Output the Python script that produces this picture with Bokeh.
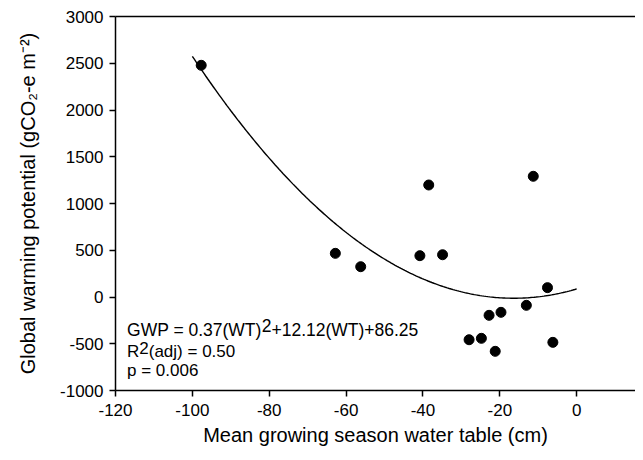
import numpy as np
from bokeh.plotting import figure
from bokeh.models import Range1d, FixedTicker, LinearAxis, Label, ColumnDataSource
from bokeh.embed import file_html
from bokeh.resources import INLINE

# ---- data ----
water_table = [-97.7, -62.8, -56.2, -40.8, -38.5, -34.9, -28.0, -24.8,
               -22.8, -21.2, -19.7, -13.1, -11.3, -7.6, -6.2]
gwp = [2478, 467, 324, 442, 1198, 452, -457, -442,
       -196, -581, -164, -89, 1291, 100, -485]

# fitted quadratic shown on the chart: GWP = a*WT^2 + b*WT + c
fit_a, fit_b, fit_c = 0.37, 12.12, 86.25
fit_start, fit_end = -100, 0

x_ticks = [-120, -100, -80, -60, -40, -20, 0]
y_ticks = [-1000, -500, 0, 500, 1000, 1500, 2000, 2500, 3000]

eq_part1 = "GWP = 0.37(WT)"
eq_sup = "2"
eq_part2 = "+12.12(WT)+86.25"
r2_part1 = "R"
r2_sup = "2"
r2_part2 = "(adj) = 0.50"
p_text = "p = 0.006"

x_title = "Mean growing season water table (cm)"
y_title = "Global warming potential (gCO\u2082-e m\u207b\u00b2)"

FONT = "Liberation Sans"

p = figure(width=635, height=452,
           x_range=Range1d(-120, 15.3), y_range=Range1d(-1000, 3000),
           output_backend="svg", toolbar_location=None,
           min_border_left=115, min_border_right=0,
           min_border_top=16, min_border_bottom=62)
p.grid.visible = False
p.outline_line_color = None
p.background_fill_color = "white"
p.border_fill_color = "white"

for ax in (p.xaxis[0], p.yaxis[0]):
    ax.minor_tick_line_color = None
    ax.major_tick_in = 0
    ax.major_tick_out = 6
    ax.axis_line_width = 1.5
    ax.major_tick_line_width = 1.5
    ax.axis_line_color = "black"
    ax.major_tick_line_color = "black"
    ax.major_label_text_font = FONT
    ax.major_label_text_font_size = "17px"
    ax.major_label_text_color = "black"
    ax.axis_label_text_font = FONT
    ax.axis_label_text_font_size = "20px"
    ax.axis_label_text_font_style = "normal"
    ax.axis_label_text_color = "black"

p.xaxis[0].ticker = FixedTicker(ticks=x_ticks)
p.yaxis[0].ticker = FixedTicker(ticks=y_ticks)
p.xaxis[0].major_label_overrides = {t: str(t) for t in x_ticks}
p.yaxis[0].major_label_overrides = {t: str(t) for t in y_ticks}
p.xaxis[0].axis_label = x_title
p.yaxis[0].axis_label = y_title
p.xaxis[0].major_label_standoff = 7
p.xaxis[0].axis_label_standoff = 5
p.yaxis[0].major_label_standoff = 6
p.yaxis[0].axis_label_standoff = 18

top = LinearAxis(ticker=FixedTicker(ticks=[]), major_label_text_font_size="0px",
                 major_tick_in=0, major_tick_out=0, minor_tick_in=0, minor_tick_out=0,
                 axis_line_width=1.5, axis_line_color="black", major_label_standoff=0)
p.add_layout(top, "above")

# fit curve
fx = np.linspace(fit_start, fit_end, 200)
fy = fit_a * fx ** 2 + fit_b * fx + fit_c
p.line(fx, fy, line_color="black", line_width=1.4)

src = ColumnDataSource(data=dict(x=water_table, y=gwp))
p.scatter("x", "y", source=src, size=10, fill_color="black", line_color="black")

tx = -117.0
def lab(text, y, xoff=0, size=17):
    p.add_layout(Label(x=tx, y=y, x_offset=xoff, text=text, text_font=FONT,
                       text_font_size=f"{size}px", text_color="black",
                       text_baseline="alphabetic", text_align="left"))

# line 1
f1 = 17.5
lab(eq_part1, -353, size=f1)
lab(eq_sup, -353 + 43, xoff=7.696 * f1, size=f1)
lab(eq_part2, -353, xoff=(7.696 + 0.556) * f1, size=f1)
# line 2
f2 = 17
lab(r2_part1, -584, size=f2)
lab(r2_sup, -584 + 43, xoff=0.722 * f2, size=f2)
lab(r2_part2, -584, xoff=(0.722 + 0.556) * f2, size=f2)
# line 3
lab(p_text, -791, size=f2)

open("out.html", "w").write(file_html(p, INLINE))
